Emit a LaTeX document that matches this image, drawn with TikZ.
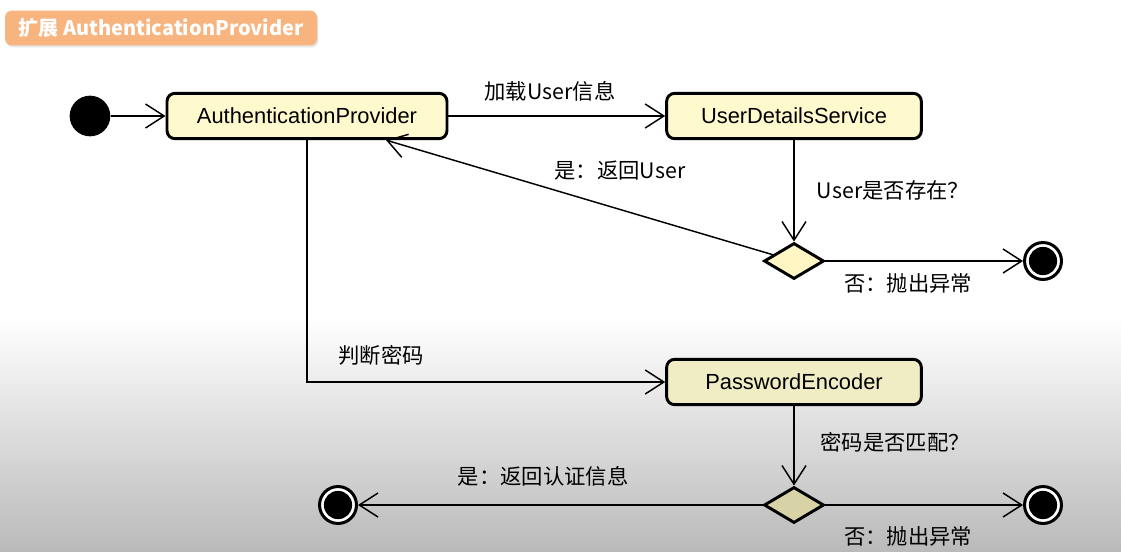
\documentclass[tikz,border=0pt]{standalone}
\usepackage{fontspec}
\setmainfont{Liberation Sans}
\newfontfamily\cjk{Noto Sans CJK SC}
\usetikzlibrary{calc,positioning,shapes.geometric,arrows.meta,shadows}

\definecolor{boxfill}{RGB}{255,250,206}
\definecolor{boxfilldark}{RGB}{240,236,196}
\definecolor{diafill}{RGB}{255,246,196}
\definecolor{diafilldark}{RGB}{216,211,166}
\definecolor{titlefill}{RGB}{248,180,126}
\definecolor{bgbottom}{RGB}{186,186,186}

\begin{document}
\begin{tikzpicture}[x=0.75pt,y=0.75pt,yscale=-1,xscale=1,
    statebox/.style={draw,line width=2.2pt,rounded corners=6pt,fill=boxfill,
      minimum height=34pt,inner sep=0pt,font=\fontsize{16.4}{19}\selectfont},
    decision/.style={diamond,draw,line width=2.2pt,fill=diafill,inner sep=0pt,
      minimum width=45pt,minimum height=27pt},
    startnode/.style={circle,fill=black,minimum size=30.5pt,inner sep=0pt},
    endnode/.style={circle,draw,line width=2.25pt,fill=white,minimum size=27.7pt,inner sep=0pt,
      path picture={\fill[black] (path picture bounding box.center) circle (10.6pt);}},
    flow/.style={line width=1.1pt,-{Straight Barb[length=14pt,width=18pt]}},
    lbl/.style={font=\cjk\fontsize{16}{19}\selectfont,inner sep=1pt}
  ]
  \useasboundingbox (0,0) rectangle (1121,551);
  % background
  \fill[white] (0,0) rectangle (1121,318);
  \shade[top color=white,bottom color=bgbottom] (0,317) rectangle (1121,551);

  % title tag
  \node[fill=titlefill,rounded corners=5pt,minimum width=234pt,minimum height=26pt,inner sep=0pt,
    drop shadow={opacity=0.2,shadow xshift=1pt,shadow yshift=-1.5pt},
    text=white,font=\cjk\bfseries\fontsize{15}{18}\selectfont] (title) at (161,28) {扩展 AuthenticationProvider};

  % states
  \node[startnode] (start) at (90,116) {};
  \node[statebox,minimum width=210pt] (ap) at (307,116) {AuthenticationProvider};
  \node[statebox,minimum width=191pt] (uds) at (794,116) {UserDetailsService};
  \node[decision] (dia1) at (794,261) {};
  \node[endnode] (end1) at (1043,261) {};
  \node[statebox,minimum width=191pt,fill=boxfilldark] (pe) at (794,382) {PasswordEncoder};
  \node[decision,fill=diafilldark] (dia2) at (794,505) {};
  \node[endnode] (end2) at (1043,505) {};
  \node[endnode] (end3) at (338,505) {};

  % connectors
  \draw[flow] (start) -- (ap);
  \draw[flow] (ap) -- (uds);
  \draw[flow] (uds) -- (dia1);
  \draw[flow] (dia1) -- (end1);
  \draw[flow] (dia1) -- ($(ap.south)+(79,0)$);
  \draw[flow] (ap.south) |- (pe.west);
  \draw[flow] (pe) -- (dia2);
  \draw[flow] (dia2) -- (end2);
  \draw[flow] (dia2) -- (end3);

  % labels
  \node[lbl] (l1) at (550,91) {加载User信息};
  \node[lbl] (l2) at (620,171) {是：返回User};
  \node[lbl] (l3) at (893,190) {User是否存在？};
  \node[lbl] (l4) at (908,283) {否：抛出异常};
  \node[lbl] (l5) at (381,355) {判断密码};
  \node[lbl] (l6) at (895,442) {密码是否匹配？};
  \node[lbl] (l7) at (543,476) {是：返回认证信息};
  \node[lbl] (l8) at (908,536) {否：抛出异常};
\end{tikzpicture}
\end{document}
